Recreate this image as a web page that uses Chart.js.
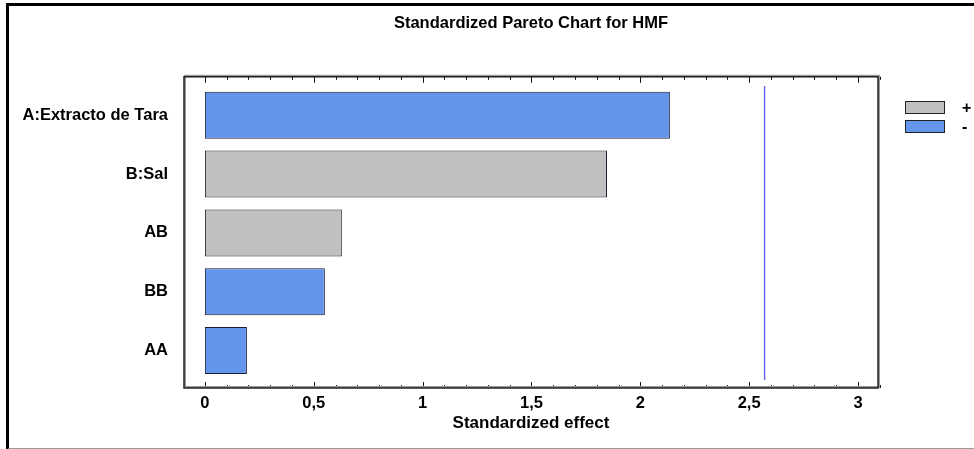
<!DOCTYPE html>
<html>
<head>
<meta charset="utf-8">
<script src="https://cdn.jsdelivr.net/npm/chart.js@4.4.1/dist/chart.umd.min.js"></script>
<style>
  html, body { margin: 0; padding: 0; background: #fff; }
  #wrap { position: relative; width: 974px; height: 449px; overflow: hidden; }
  #frame {
    position: absolute; left: 6px; top: 3px; width: 1000px; height: 442px;
    border-left: 3px solid #000; border-top: 3px solid #000; border-bottom: 2px solid #9a9a9a;
    pointer-events: none;
  }
  #legend { position: absolute; left: 905px; top: 98px; font: bold 16px "Liberation Sans", Arial, sans-serif; color: #000; }
  #legend .row { display: flex; align-items: center; height: 19px; }
  #legend .box { width: 38px; height: 11px; border: 1px solid #222; margin-right: 17px; }
</style>
</head>
<body>
<div id="wrap">
  <canvas id="c" width="974" height="449"></canvas>
  <div id="frame"></div>
  <div id="legend"></div>
</div>
<script>
// Effects, top to bottom
const factors = ['A:Extracto de Tara', 'B:Sal', 'AB', 'BB', 'AA'];
const effects = [2.136, 1.847, 0.629, 0.551, 0.193];
const signs = ['-', '+', '+', '-', '-'];
const criticalValue = 2.571;

const xTickValues = [0, 0.5, 1, 1.5, 2, 2.5, 3];
const xTickLabels = ['0', '0,5', '1', '1,5', '2', '2,5', '3'];

const signGroups = ['+', '-'];
const signColors = { '+': '#c0c0c0', '-': '#6495ed' };

const FONT = '"Liberation Sans", Arial, sans-serif';
const FS = 16.5;

const barSets = signGroups.map(s => ({
  type: 'bar',
  label: s,
  indexAxis: 'y',
  data: factors.map((f, i) => ({ x: effects[i], y: i })).filter((p, i) => signs[i] === s),
  backgroundColor: signColors[s],
  borderColor: '#1c1c30',
  borderWidth: 1,
  borderSkipped: false,
  grouped: false,
  categoryPercentage: 0.8,
  barPercentage: 1.0
}));

const refLine = {
  type: 'line',
  label: 'ref',
  data: [{ x: criticalValue, y: -0.5 }, { x: criticalValue, y: factors.length - 0.5 }],
  borderColor: '#6a6af0',
  borderWidth: 1.5,
  pointRadius: 0,
  fill: false
};

// inward tick marks along the top and bottom of the plot, plus the frame of the plot
const plotFrame = {
  id: 'plotFrame',
  afterDatasetsDraw(chart) {
    const { ctx, chartArea: a, scales: { x } } = chart;
    ctx.save();
    ctx.strokeStyle = '#111';
    ctx.lineWidth = 1;
    for (let i = 0; i <= 31; i++) {
      const v = i / 10;
      const px = Math.round(x.getPixelForValue(v)) + 0.5;
      const major = i % 5 === 0;
      const len = major ? 6 : 3;
      ctx.beginPath();
      ctx.moveTo(px, a.bottom); ctx.lineTo(px, a.bottom - len);
      ctx.moveTo(px, a.top); ctx.lineTo(px, a.top + len);
      ctx.stroke();
    }
    ctx.strokeStyle = '#999';
    ctx.lineWidth = 2;
    ctx.strokeRect(a.left + 1, a.top - 1, a.right - a.left, a.bottom - a.top);
    ctx.strokeStyle = '#222';
    ctx.lineWidth = 1.5;
    ctx.strokeRect(a.left, a.top, a.right - a.left, a.bottom - a.top);
    ctx.restore();
  }
};

new Chart(document.getElementById('c'), {
  data: { datasets: [...barSets, refLine] },
  options: {
    responsive: false,
    animation: false,
    events: [],
    layout: { padding: { top: 0, right: 96, bottom: 0, left: 0 } },
    plugins: {
      legend: { display: false },
      tooltip: { enabled: false },
      title: {
        display: true,
        fullSize: false,
        text: 'Standardized Pareto Chart for HMF',
        color: '#000',
        font: { family: FONT, size: FS, weight: 'bold' },
        padding: { top: 14, bottom: 43 }
      }
    },
    scales: {
      x: {
        type: 'linear',
        min: -0.096,
        max: 3.092,
        offset: false,
        grid: { display: false, drawTicks: false },
        border: { display: false },
        afterBuildTicks: axis => { axis.ticks = xTickValues.map(v => ({ value: v })); },
        ticks: {
          padding: 6,
          color: '#000',
          font: { family: FONT, size: FS, weight: 'bold' },
          callback: v => xTickLabels[xTickValues.indexOf(v)]
        },
        title: {
          display: true,
          text: 'Standardized effect',
          color: '#000',
          font: { family: FONT, size: 17, weight: 'bold' },
          padding: { top: 0, bottom: 15 }
        },
        afterFit: s => { s.height = 61; }
      },
      y: {
        type: 'linear',
        reverse: true,
        offset: false,
        min: -0.655,
        max: factors.length - 1 + 0.638,
        grid: { display: false, drawTicks: false },
        border: { display: false },
        afterBuildTicks: axis => { axis.ticks = factors.map((f, i) => ({ value: i })); },
        ticks: {
          padding: 16,
          color: '#000',
          font: { family: FONT, size: FS, weight: 'bold' },
          callback: v => factors[v]
        },
        afterFit: s => { s.width = 184; }
      }
    }
  },
  plugins: [plotFrame]
});

// legend built from the bar datasets
const legend = document.getElementById('legend');
barSets.forEach(ds => {
  const row = document.createElement('div');
  row.className = 'row';
  const box = document.createElement('span');
  box.className = 'box';
  box.style.background = ds.backgroundColor;
  const txt = document.createElement('span');
  txt.textContent = ds.label;
  row.appendChild(box);
  row.appendChild(txt);
  legend.appendChild(row);
});
</script>
</body>
</html>
